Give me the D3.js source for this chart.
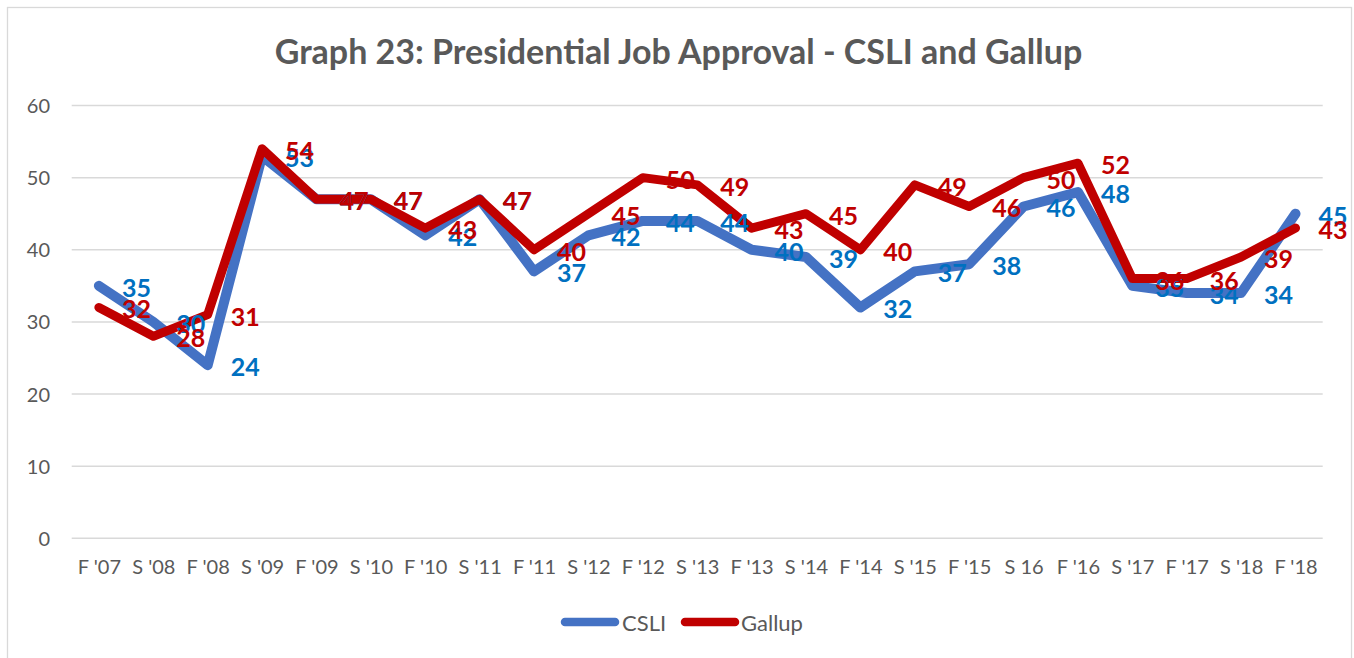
<!DOCTYPE html>
<html>
<head>
<meta charset="utf-8">
<script src="https://cdnjs.cloudflare.com/ajax/libs/d3/7.8.5/d3.min.js"></script>
<style>
  html, body { margin: 0; padding: 0; background: #fff; }
  svg { display: block; }
</style>
</head>
<body>
<svg id="chart" width="1354" height="658"></svg>
<script>
const categories = ["F '07","S '08","F '08","S '09","F '09","S '10","F '10","S '11","F '11","S '12","F '12","S '13","F '13","S '14","F '14","S '15","F '15","S 16","F '16","S '17","F '17","S '18","F '18"];
const csli   = [35,30,24,53,47,47,42,47,37,42,44,44,40,39,32,37,38,46,48,35,34,34,45];
const gallup = [32,28,31,54,47,47,43,47,40,45,50,49,43,45,40,49,46,50,52,36,36,39,43];
const yTicks = [0,10,20,30,40,50,60];
const titleText = "Graph 23: Presidential Job Approval - CSLI and Gallup";

const font = "Lato, 'Open Sans', sans-serif";
const svg = d3.select("#chart");

// outer border
svg.append("rect").attr("x",7.5).attr("y",7.5).attr("width",1344).attr("height",680)
  .attr("fill","#fff").attr("stroke","#D9D9D9").attr("stroke-width",1.3);

const x = d3.scalePoint().domain(categories).range([71.7,1322.7]).padding(0.5);
const y = d3.scaleLinear().domain([0,60]).range([538.3,105.5]);

// gridlines
svg.append("g").selectAll("line").data(yTicks).join("line")
  .attr("x1",71.7).attr("x2",1322.7)
  .attr("y1",d=>y(d)).attr("y2",d=>y(d))
  .attr("stroke","#D9D9D9").attr("stroke-width",1.5);

// y axis labels
const yAxis = d3.axisLeft(y).tickValues(yTicks).tickSize(0).tickPadding(0);
const gy = svg.append("g").attr("transform","translate(50,0)").call(yAxis);
gy.select(".domain").remove();
gy.selectAll("text").attr("font-family",font).attr("font-size",20).attr("fill","#595959").attr("dy","0.35em");

// x axis labels
const xAxis = d3.axisBottom(x).tickSize(0).tickPadding(0);
const gx = svg.append("g").attr("transform","translate(0,560)").call(xAxis);
gx.select(".domain").remove();
gx.selectAll("text").attr("font-family",font).attr("font-size",20).attr("fill","#595959").attr("dy","0.71em");

// lines
const line = d3.line().x((d,i)=>x(categories[i])).y(d=>y(d));
svg.append("path").datum(csli).attr("d",line).attr("fill","none")
  .attr("stroke","#4472C4").attr("stroke-width",10).attr("stroke-linejoin","round").attr("stroke-linecap","round");
svg.append("path").datum(gallup).attr("d",line).attr("fill","none")
  .attr("stroke","#C00000").attr("stroke-width",9).attr("stroke-linejoin","round").attr("stroke-linecap","round");

// data labels
function labels(data, color) {
  svg.append("g").selectAll("text").data(data).join("text")
    .attr("x",(d,i)=>x(categories[i])+23)
    .attr("y",d=>y(d)+11)
    .attr("font-family",font).attr("font-size",25).attr("font-weight","bold")
    .attr("fill",color)
    .text(d=>d);
}
labels(csli,"#0070C0");
labels(gallup,"#C00000");

// title
const title = svg.append("text").attr("x",678.5).attr("y",63.5).attr("text-anchor","middle")
  .attr("font-family",font).attr("font-size",34).attr("font-weight","bold").attr("fill","#595959")
  .text(titleText);
const tw = title.node().getComputedTextLength();
if (Math.abs(tw-807) > 10) title.attr("textLength",807).attr("lengthAdjust","spacingAndGlyphs");

// legend
const legend = [{name:"CSLI",color:"#4472C4",x1:561,x2:619,tx:622},{name:"Gallup",color:"#C00000",x1:681,x2:739,tx:741}];
const lg = svg.append("g");
lg.selectAll("line").data(legend).join("line")
  .attr("x1",d=>d.x1+4).attr("x2",d=>d.x2-4).attr("y1",622).attr("y2",622)
  .attr("stroke",d=>d.color).attr("stroke-width",8.5).attr("stroke-linecap","round");
lg.selectAll("text").data(legend).join("text")
  .attr("x",d=>d.tx).attr("y",630.5)
  .attr("font-family",font).attr("font-size",22).attr("fill","#595959")
  .text(d=>d.name);
</script>
</body>
</html>
